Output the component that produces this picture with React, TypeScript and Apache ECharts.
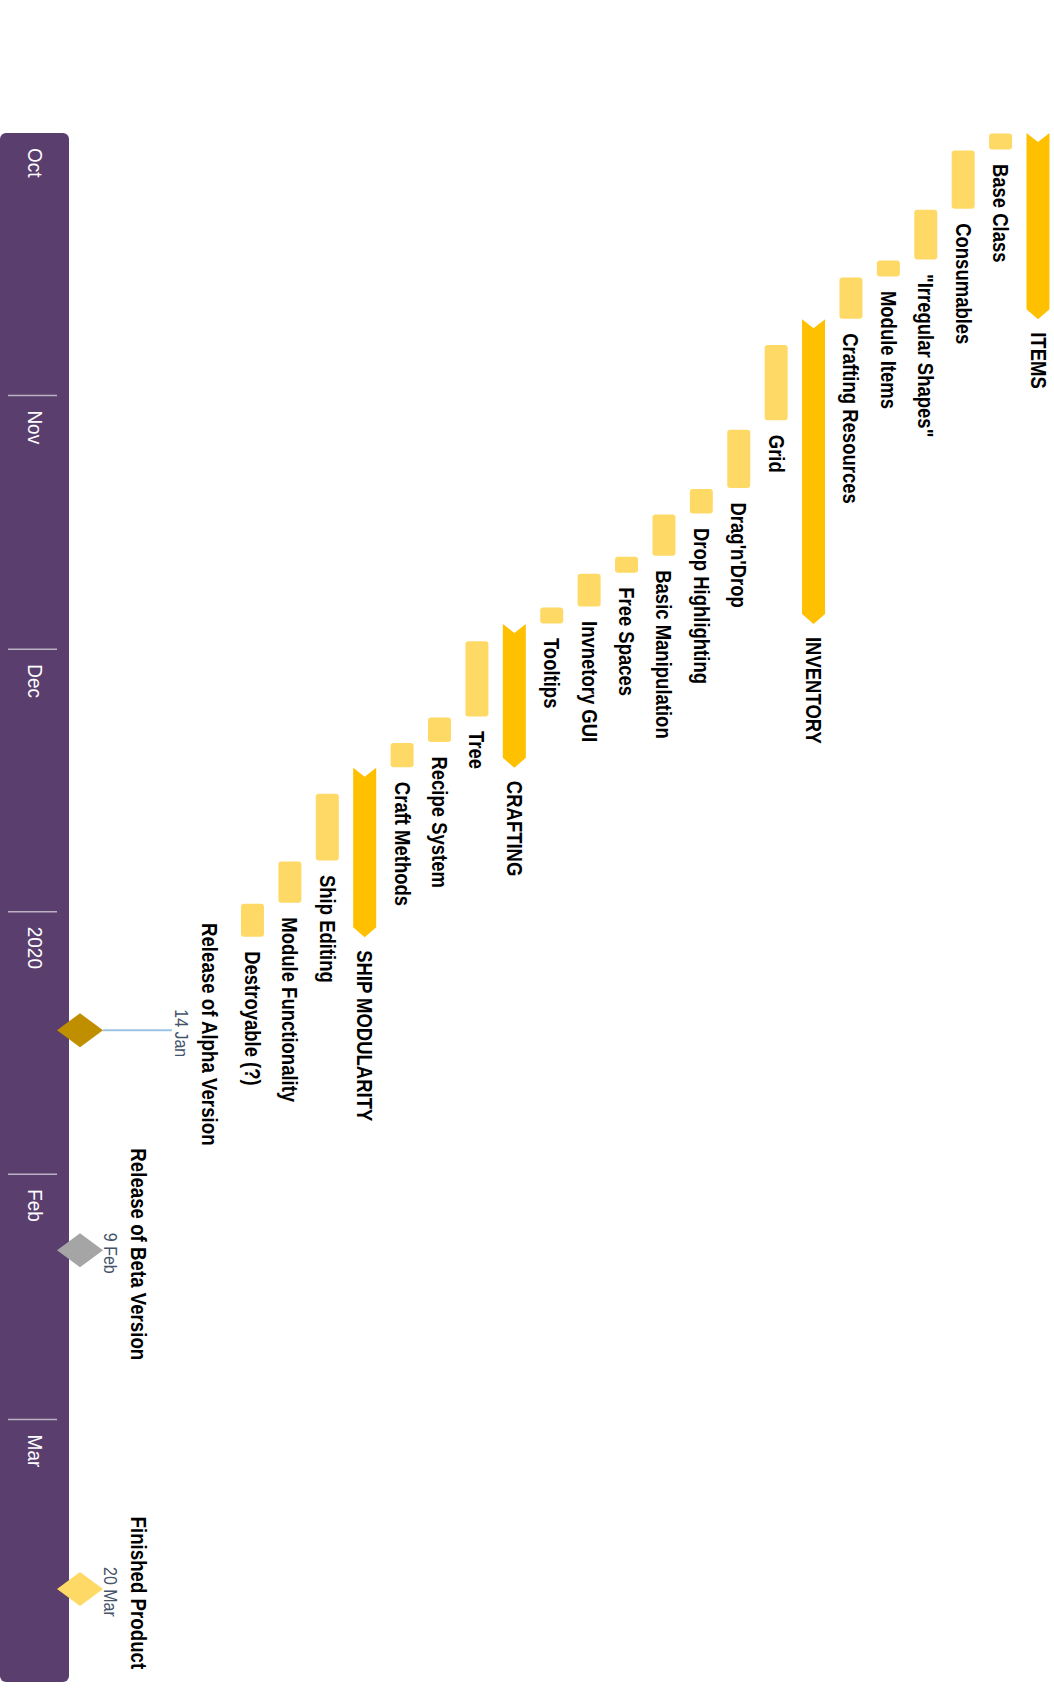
import React, { useEffect, useRef } from "react";
import * as echarts from "echarts";

// ---------- DATA ----------
const taskNames = [
  "ITEMS",
  "Base Class",
  "Consumables",
  "\"Irregular Shapes\"",
  "Module Items",
  "Crafting Resources",
  "INVENTORY",
  "Grid",
  "Drag'n'Drop",
  "Drop Highlighting",
  "Basic Manipulation",
  "Free Spaces",
  "Invnetory GUI",
  "Tooltips",
  "CRAFTING",
  "Tree",
  "Recipe System",
  "Craft Methods",
  "SHIP MODULARITY",
  "Ship Editing",
  "Module Functionality",
  "Destroyable (?)",
];
const taskStarts = [
  "2019-10-01", "2019-10-01", "2019-10-03", "2019-10-10", "2019-10-16", "2019-10-18",
  "2019-10-23", "2019-10-26", "2019-11-05", "2019-11-12", "2019-11-15", "2019-11-20",
  "2019-11-22", "2019-11-26", "2019-11-28", "2019-11-30", "2019-12-09", "2019-12-12",
  "2019-12-15", "2019-12-18", "2019-12-26", "2019-12-31",
];
const taskEnds = [
  "2019-10-23", "2019-10-03", "2019-10-10", "2019-10-16", "2019-10-18", "2019-10-23",
  "2019-11-28", "2019-11-04", "2019-11-12", "2019-11-15", "2019-11-20", "2019-11-22",
  "2019-11-26", "2019-11-28", "2019-12-15", "2019-12-09", "2019-12-12", "2019-12-15",
  "2020-01-04", "2019-12-26", "2019-12-31", "2020-01-04",
];
const summaryTasks = ["ITEMS", "INVENTORY", "CRAFTING", "SHIP MODULARITY"];

const milestoneNames = ["Release of Alpha Version", "Release of Beta Version", "Finished Product"];
const milestoneDates = ["2020-01-14", "2020-02-09", "2020-03-20"];
const milestoneDateLabels = ["14 Jan", "9 Feb", "20 Mar"];

const monthStarts = ["2019-10-01", "2019-11-01", "2019-12-01", "2020-01-01", "2020-02-01", "2020-03-01"];
const monthLabels = ["Oct", "Nov", "Dec", "2020", "Feb", "Mar"];
const axisStart = "2019-10-01";
const axisEnd = "2020-04-01";

// ---------- STYLE ----------
const BAND_COLOR = "#5A3E6E";
const TASK_COLOR = "#FFD966";
const SUMMARY_COLOR = "#FFC000";
const MILESTONE_COLORS = ["#BF8F00", "#A5A5A5", "#FFD966"];
const MILESTONE_CONNECTOR = [71, 0, 0];
const FONT = '"Liberation Sans", Arial, sans-serif';
const DAY = 86400000;

function toTime(s: string): number {
  const [y, m, d] = s.split("-").map(Number);
  return new Date(y, m - 1, d).getTime();
}

function vText(
  x: number,
  y: number,
  text: string,
  size: number,
  weight: string,
  fill: string,
  align = "left",
  stretch = 1.15
) {
  return {
    type: "text",
    x,
    y,
    rotation: -Math.PI / 2,
    scaleX: 1,
    scaleY: stretch,
    style: {
      text,
      fill,
      fontSize: size,
      fontWeight: weight,
      fontFamily: FONT,
      align,
      verticalAlign: "middle",
      textAlign: align,
      textVerticalAlign: "middle",
    },
  };
}

function buildOption() {
  const bandSeries = {
    type: "custom",
    clip: false,
    z: 1,
    encode: { x: 0, y: [1, 2] },
    data: [[0, toTime(axisStart), toTime(axisEnd)]],
    renderItem: (params: any, api: any) => {
      const cs = params.coordSys;
      const y0 = api.coord([0, api.value(1)])[1];
      const y1 = api.coord([0, api.value(2)])[1];
      return {
        type: "rect",
        shape: { x: cs.x, y: y0, width: 69, height: y1 - y0, r: 6 },
        style: { fill: BAND_COLOR },
      };
    },
  };

  const monthSeries = {
    type: "custom",
    clip: false,
    z: 2,
    encode: { x: 0, y: 1 },
    data: monthStarts.map((m, i) => [0, toTime(m), i]),
    renderItem: (params: any, api: any) => {
      const cs = params.coordSys;
      const t = api.value(1);
      const idx = api.value(2);
      const y = api.coord([0, t])[1];
      const children: any[] = [];
      if (t > toTime(axisStart)) {
        children.push({
          type: "line",
          shape: { x1: cs.x + 8, y1: y, x2: cs.x + 57, y2: y },
          style: { stroke: "#BBB2C4", lineWidth: 1.5 },
        });
      }
      children.push(vText(cs.x + 35, y + 15, monthLabels[idx], 19, "normal", "#FFFFFF", "left", 1.1));
      return { type: "group", children };
    },
  };

  const taskSeries = {
    type: "custom",
    clip: false,
    z: 3,
    encode: { x: 0, y: [1, 2] },
    data: taskNames.map((n, i) => [i, toTime(taskStarts[i]), toTime(taskEnds[i])]),
    renderItem: (params: any, api: any) => {
      const i = api.value(0);
      const name = taskNames[i];
      const isSummary = summaryTasks.indexOf(name) >= 0;
      const p0 = api.coord([i, api.value(1)]);
      const p1 = api.coord([i, api.value(2)]);
      const cx = p0[0];
      const y0 = p0[1];
      const y1 = p1[1];
      const w = 11.5;
      const children: any[] = [];
      if (isSummary) {
        const n = 9;
        const p = 10;
        children.push({
          type: "polygon",
          shape: {
            points: [
              [cx - w, y0],
              [cx, y0 + n],
              [cx + w, y0],
              [cx + w, y1 - p],
              [cx, y1],
              [cx - w, y1 - p],
            ],
          },
          style: { fill: SUMMARY_COLOR },
        });
        children.push(vText(cx, y1 + 13, name, 18.5, "bold", "#000000"));
      } else {
        children.push({
          type: "rect",
          shape: { x: cx - w, y: y0 + 0.5, width: 2 * w, height: y1 - y0 - 1, r: 3 },
          style: { fill: TASK_COLOR },
        });
        children.push(vText(cx, y1 + 14, name, 18.5, "bold", "#000000"));
      }
      return { type: "group", children };
    },
  };

  const milestoneSeries = {
    type: "custom",
    clip: false,
    z: 4,
    encode: { x: 0, y: 1 },
    // milestones sit at the end of their day
    data: milestoneDates.map((d, i) => [0, toTime(d) + DAY, i]),
    renderItem: (params: any, api: any) => {
      const cs = params.coordSys;
      const idx = api.value(2);
      const y = api.coord([0, api.value(1)])[1];
      const cx = cs.x + 80;
      const shift = MILESTONE_CONNECTOR[idx];
      const children: any[] = [];
      if (shift > 0) {
        children.push({
          type: "line",
          shape: { x1: cx + 23, y1: y, x2: cx + 23 + shift - 2, y2: y },
          style: { stroke: "#9DC3E6", lineWidth: 2 },
        });
      }
      children.push({
        type: "polygon",
        shape: {
          points: [
            [cx - 23, y],
            [cx, y - 17],
            [cx + 23, y],
            [cx, y + 17],
          ],
        },
        style: { fill: MILESTONE_COLORS[idx] },
      });
      children.push(vText(cx + 30 + shift, y + 3, milestoneDateLabels[idx], 16, "normal", "#44546A", "center", 1.12));
      children.push(vText(cx + 58 + shift, y + 4, milestoneNames[idx], 18.7, "bold", "#000000", "center"));
      return { type: "group", children };
    },
  };

  return {
    animation: false,
    backgroundColor: "#FFFFFF",
    grid: { left: 0, right: 0, top: 133, bottom: 8, containLabel: false },
    xAxis: {
      type: "value",
      inverse: true,
      min: -0.428,
      max: 27.75,
      show: false,
    },
    yAxis: {
      type: "time",
      inverse: true,
      min: toTime(axisStart),
      max: toTime(axisEnd),
      show: false,
    },
    series: [bandSeries, monthSeries, taskSeries, milestoneSeries],
  };
}

export default function App() {
  const ref = useRef<HTMLDivElement>(null);
  useEffect(() => {
    if (!ref.current) return;
    const chart = echarts.init(ref.current, null, { renderer: "svg" });
    chart.setOption(buildOption() as any);
    return () => chart.dispose();
  }, []);
  return (
    <div
      ref={ref}
      style={{ position: "absolute", left: 0, top: 0, width: 1054, height: 1690, background: "#FFFFFF" }}
    />
  );
}
